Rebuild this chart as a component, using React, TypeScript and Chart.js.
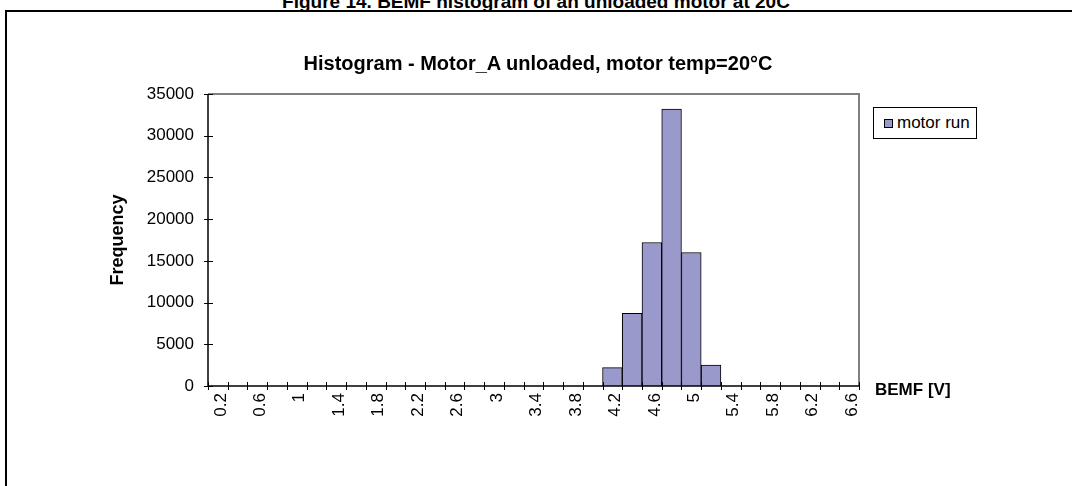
import React, { useEffect, useRef } from "react";
import { Chart, registerables } from "chart.js";

Chart.register(...registerables);

const categories: string[] = [
  "0.2", "0.4", "0.6", "0.8", "1", "1.2", "1.4", "1.6", "1.8", "2", "2.2",
  "2.4", "2.6", "2.8", "3", "3.2", "3.4", "3.6", "3.8", "4", "4.2", "4.4",
  "4.6", "4.8", "5", "5.2", "5.4", "5.6", "5.8", "6", "6.2", "6.4", "6.6",
];

const motorRun: number[] = [
  0, 0, 0, 0, 0, 0, 0, 0, 0, 0, 0,
  0, 0, 0, 0, 0, 0, 0, 0, 0, 2200, 8700,
  17200, 33200, 16000, 2500, 0, 0, 0, 0, 0, 0, 0,
];

const yTicks: number[] = [0, 5000, 10000, 15000, 20000, 25000, 30000, 35000];

const FONT = '"Liberation Sans", Arial, sans-serif';
const BAR_COLOR = "#9999CC";

const frameAxesPlugin = {
  id: "frameAxes",
  afterDatasetsDraw(chart: any) {
    const { ctx, chartArea } = chart;
    const { left, right, top, bottom } = chartArea;
    const x = chart.scales.x;
    const y = chart.scales.y;
    ctx.save();
    ctx.strokeStyle = "#808080";
    ctx.lineWidth = 2;
    ctx.beginPath();
    ctx.moveTo(left, top);
    ctx.lineTo(right, top);
    ctx.lineTo(right, bottom);
    ctx.stroke();
    ctx.strokeStyle = "#000";
    ctx.lineWidth = 1.5;
    ctx.beginPath();
    ctx.moveTo(left, top);
    ctx.lineTo(left, bottom);
    ctx.lineTo(right, bottom);
    ctx.stroke();
    ctx.lineWidth = 1;
    ctx.beginPath();
    yTicks.forEach((v) => {
      const py = Math.round(y.getPixelForValue(v)) + 0.5;
      ctx.moveTo(left - 4, py);
      ctx.lineTo(left + 5, py);
    });
    const n = categories.length;
    const w = (x.right - x.left) / n;
    for (let i = 0; i <= n; i++) {
      const px = Math.round(x.left + i * w) + 0.5;
      ctx.moveTo(px, bottom - 4);
      ctx.lineTo(px, bottom + 4);
    }
    ctx.stroke();
    ctx.restore();
  },
};

export default function App() {
  const canvasRef = useRef<HTMLCanvasElement | null>(null);

  useEffect(() => {
    const canvas = canvasRef.current;
    if (!canvas) return;
    const chart = new Chart(canvas, {
      type: "bar",
      data: {
        labels: categories,
        datasets: [
          {
            label: "motor run",
            data: motorRun,
            backgroundColor: BAR_COLOR,
            borderColor: "#000",
            borderWidth: 1,
            barPercentage: 1,
            categoryPercentage: 1,
          },
        ],
      },
      options: {
        responsive: false,
        animation: false,
        devicePixelRatio: 1,
        layout: { padding: { top: 94, right: 213, bottom: 0, left: 0 } },
        plugins: {
          legend: { display: false },
          title: { display: false },
          tooltip: { enabled: false },
        },
        scales: {
          x: {
            type: "category",
            offset: true,
            grid: { display: false, drawTicks: false },
            border: { display: false },
            ticks: {
              autoSkip: false,
              minRotation: 90,
              maxRotation: 90,
              padding: 7,
              labelOffset: 3,
              color: "#000",
              font: { family: FONT, size: 17 },
              callback: (_v: any, i: number) => (i % 2 === 0 ? categories[i] : ""),
            },
            afterFit: (s: any) => {
              s.height = 100;
            },
          },
          y: {
            min: 0,
            max: 35000,
            grid: { display: false, drawTicks: false },
            border: { display: false },
            ticks: {
              stepSize: 5000,
              padding: 14,
              color: "#000",
              font: { family: FONT, size: 17 },
              callback: (v: any) => String(v),
            },
            title: {
              display: true,
              text: "Frequency",
              color: "#000",
              font: { family: FONT, size: 18, weight: "bold", lineHeight: 1.2 },
              padding: { top: 107, bottom: 0 },
            },
            afterFit: (s: any) => {
              s.width = 208;
            },
          },
        },
      },
      plugins: [frameAxesPlugin],
    } as any);
    return () => chart.destroy();
  }, []);

  return (
    <div
      style={{
        position: "fixed",
        left: 0,
        top: 0,
        width: 1072,
        height: 486,
        overflow: "hidden",
        background: "#fff",
        fontFamily: FONT,
        color: "#000",
      }}
    >
      <div
        style={{
          position: "absolute",
          left: 0,
          top: -8,
          width: 1072,
          textAlign: "center",
          fontWeight: "bold",
          fontSize: 19,
          lineHeight: "19px",
          whiteSpace: "nowrap",
        }}
      >
        Figure 14. BEMF histogram of an unloaded motor at 20C
      </div>
      <div
        style={{
          position: "absolute",
          left: 5,
          top: 10,
          width: 1100,
          height: 520,
          border: "2px solid #000",
          boxSizing: "border-box",
        }}
      />
      <canvas
        ref={canvasRef}
        width={1072}
        height={486}
        style={{ position: "absolute", left: 0, top: 0, width: 1072, height: 486 }}
      />
      <div
        style={{
          position: "absolute",
          left: 2,
          top: 52,
          width: 1072,
          textAlign: "center",
          fontWeight: "bold",
          fontSize: 20,
          lineHeight: "22px",
          whiteSpace: "nowrap",
        }}
      >
        Histogram - Motor_A unloaded, motor temp=20°C
      </div>
      <div
        style={{
          position: "absolute",
          left: 873,
          top: 107,
          width: 104,
          height: 32,
          border: "1px solid #000",
          boxSizing: "border-box",
          background: "#fff",
        }}
      >
        <div
          style={{
            position: "absolute",
            left: 10,
            top: 11,
            width: 9,
            height: 9,
            border: "1px solid #000",
            background: BAR_COLOR,
            boxSizing: "border-box",
          }}
        />
        <div
          style={{
            position: "absolute",
            left: 23,
            top: 5,
            fontSize: 17,
            lineHeight: "20px",
            whiteSpace: "nowrap",
          }}
        >
          motor run
        </div>
      </div>
      <div
        style={{
          position: "absolute",
          left: 875,
          top: 380,
          fontWeight: "bold",
          fontSize: 17,
          lineHeight: "20px",
          whiteSpace: "nowrap",
        }}
      >
        BEMF [V]
      </div>
    </div>
  );
}
